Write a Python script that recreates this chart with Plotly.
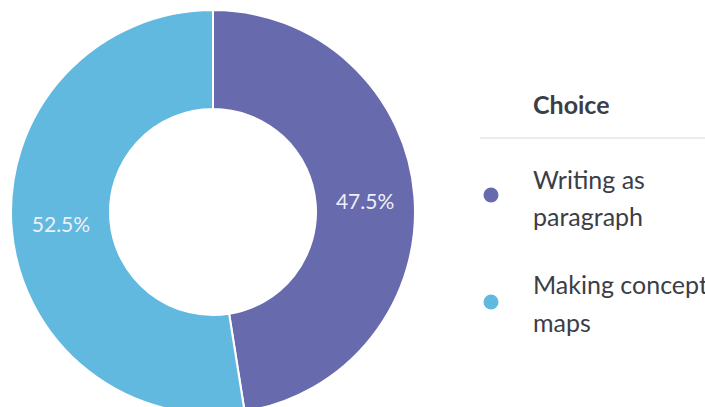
import plotly.graph_objects as go

# Survey results: preferred way of organising notes
choices = ["Writing as paragraph", "Making concept maps"]
legend_lines = [["Writing as", "paragraph"], ["Making concept", "maps"]]
shares = [47.5, 52.5]
colors = ["#686aae", "#62b9e0"]

W, H = 705, 414
TOP = 10
FONT = "Lato"
LEG_SIZE = 25

fig = go.Figure()
fig.add_trace(go.Pie(
    labels=choices,
    values=shares,
    hole=0.51,
    sort=False,
    direction="clockwise",
    rotation=0,
    marker=dict(colors=colors, line=dict(color="white", width=2)),
    textinfo="percent",
    texttemplate="%{value:.1f}%",
    textposition="inside",
    insidetextorientation="horizontal",
    textfont=dict(family=FONT, size=21, color="#eef0f8"),
    showlegend=False,
    hoverinfo="label+percent",
    domain=dict(x=[11 / W, 415 / W], y=[0, 1]),
))

# Legend drawn by hand: title, rule, coloured dots and wrapped labels.
# Helpers convert pixel positions to paper coordinates of the plot area.
def px(x):
    return x / W

def py(y):
    return 1 - (y - TOP) / (H - TOP)

def text_at(x, baseline, txt):
    # place a single line so that its baseline lands on the given pixel row
    return dict(
        x=px(x), y=py(baseline - 0.35 * LEG_SIZE), xref="paper", yref="paper",
        text=txt, showarrow=False, xanchor="left", yanchor="middle",
        font=dict(family=FONT, size=LEG_SIZE, color="#3b3e46"),
    )

annotations = [text_at(531, 113, "<b>Choice</b>")]
shapes = [dict(
    type="line", xref="paper", yref="paper",
    x0=px(480), x1=1, y0=py(138), y1=py(138),
    line=dict(color="#e6e6e9", width=1.5),
)]

dot_y = [195, 302]
baselines = [[188, 225], [293, 331]]
for i, lines in enumerate(legend_lines):
    for j, txt in enumerate(lines):
        annotations.append(text_at(531, baselines[i][j], txt))
    r = 7.5
    shapes.append(dict(
        type="circle", xref="paper", yref="paper",
        x0=px(491 - r), x1=px(491 + r), y0=py(dot_y[i] + r), y1=py(dot_y[i] - r),
        fillcolor=colors[i], line=dict(width=0),
    ))

fig.update_layout(
    width=W, height=H,
    margin=dict(l=0, r=0, t=TOP, b=0),
    paper_bgcolor="white", plot_bgcolor="white",
    annotations=annotations, shapes=shapes,
    font=dict(family=FONT),
)

fig.write_html("out.html")
